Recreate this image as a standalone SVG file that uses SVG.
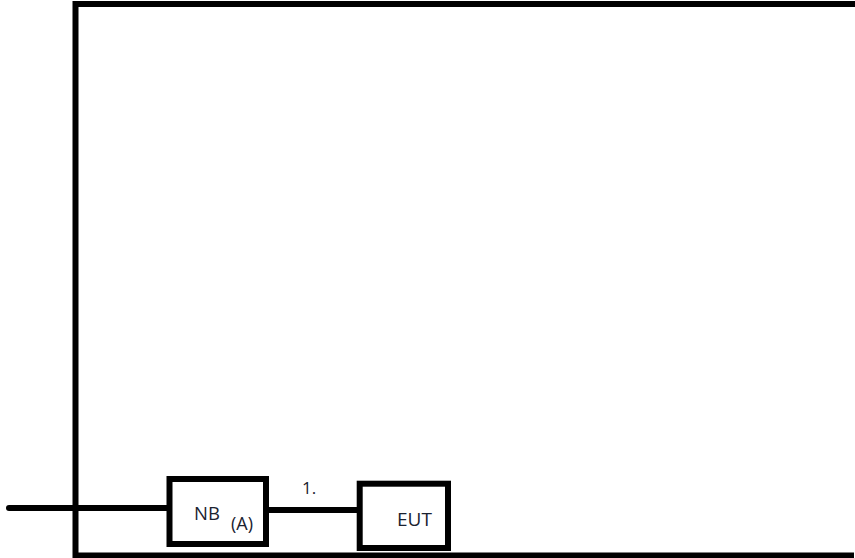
<svg xmlns="http://www.w3.org/2000/svg" width="855" height="558" viewBox="0 0 855 558">
<style>
.ln{stroke:#000;stroke-width:6;fill:none}
.box{stroke:#000;stroke-width:6;fill:#fff}
.t{font-family:"Open Sans","Noto Sans","DejaVu Sans",sans-serif;fill:#1a2230}
</style>
<rect width="855" height="558" fill="#fff"/>
<g id="frame">
<path class="ln" d="M860 4 H75.5 V555.5 H854"/>
</g>
<g id="connectors">
<line class="ln" x1="9" y1="508" x2="169" y2="508" stroke-linecap="round"/>
<line class="ln" x1="266" y1="510" x2="360" y2="510"/>
<text class="t" x="302" y="494" font-size="17">1.</text>
</g>
<g id="nb">
<rect class="box" x="169.5" y="479" width="96.5" height="65"/>
<text class="t" x="194" y="520" font-size="18.5">NB</text>
<text class="t" x="231" y="530" font-size="18">(A)</text>
</g>
<g id="eut">
<rect class="box" x="359.7" y="483.7" width="88.3" height="64.3"/>
<text class="t" x="397" y="526" font-size="19">EUT</text>
</g>
</svg>
